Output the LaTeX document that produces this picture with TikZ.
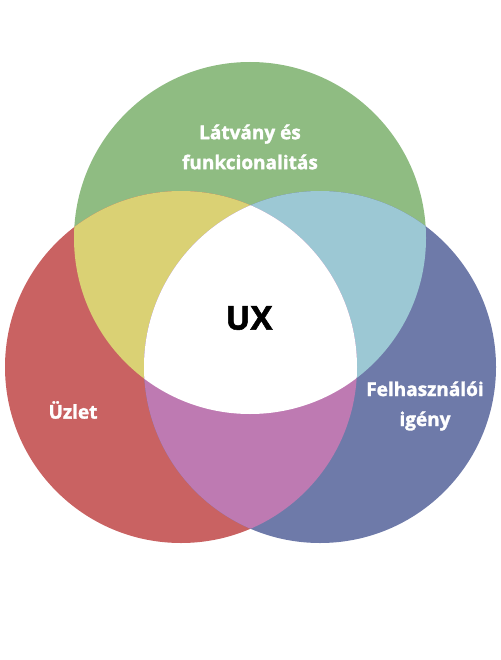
\documentclass[tikz,border=0pt]{standalone}
\usepackage{fontspec}
\setmainfont{Open Sans}[BoldFeatures={FakeBold=1.6}]
\usetikzlibrary{positioning}
\definecolor{vgreen}{HTML}{8FBC82}
\definecolor{vred}{HTML}{C96262}
\definecolor{vblue}{HTML}{6E7AA9}
\definecolor{vyellow}{HTML}{DAD174}
\definecolor{vcyan}{HTML}{9CC8D4}
\definecolor{vpink}{HTML}{BE7AB2}

\begin{document}
\begin{tikzpicture}[
  x=1pt, y=-1pt,
  setlabel/.style={text=white, align=center, font=\bfseries\fontsize{19}{30}\selectfont},
  corelabel/.style={text=black, font=\bfseries\fontsize{33}{38}\selectfont}
]
\useasboundingbox (0,0) rectangle (500,660);
\def\rad{176pt}
\coordinate (design) at (250,238);
\coordinate (business) at (181,367);
\coordinate (user) at (320,367);
\fill[vgreen] (design) circle[radius=\rad];
\fill[vred] (business) circle[radius=\rad];
\fill[vblue] (user) circle[radius=\rad];
\begin{scope}
  \clip (design) circle[radius=\rad];
  \fill[vyellow] (business) circle[radius=\rad];
  \fill[vcyan] (user) circle[radius=\rad];
\end{scope}
\begin{scope}
  \clip (business) circle[radius=\rad];
  \fill[vpink] (user) circle[radius=\rad];
  \clip (user) circle[radius=\rad];
  \fill[white] (design) circle[radius=\rad];
\end{scope}
\node[setlabel] (designlbl) at (250,147) {Látvány és\\funkcionalitás};
\node[setlabel] (businesslbl) at (73,410) {Üzlet};
\node[setlabel] (userlbl) at (425,406) {Felhasználói\\igény};
\node[corelabel] (ux) at (249,318) {UX};
\end{tikzpicture}
\end{document}
